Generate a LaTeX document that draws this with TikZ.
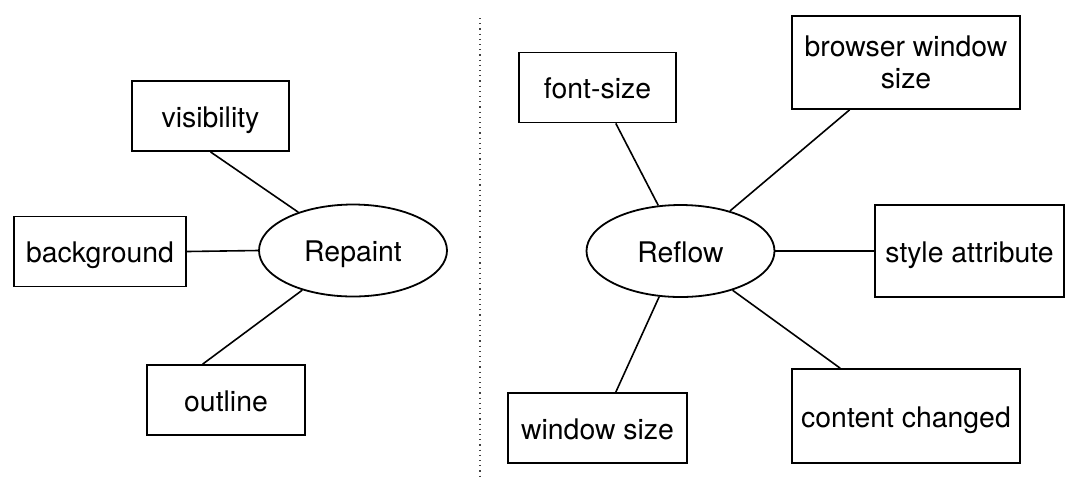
\documentclass[tikz,border=0pt]{standalone}
\usepackage{fontspec}
\setmainfont{TeX Gyre Heros}
\usetikzlibrary{shapes.geometric}

\begin{document}
\begin{tikzpicture}[x=0.5pt,y=-0.5pt]
\tikzstyle{box}=[rectangle, draw, line width=0.9pt, minimum height=35pt, inner sep=2pt, align=center, font=\fontsize{14.2}{16}\selectfont]
\tikzstyle{oneline}=[text height=11.5pt, text depth=0.5pt]
\tikzstyle{oval}=[ellipse, draw, line width=0.9pt, minimum width=94pt, minimum height=46pt, oneline, font=\fontsize{14.2}{16}\selectfont]
\useasboundingbox (0,0) rectangle (1080,500);
% repaint side
\node[box, oneline, minimum width=78.5pt] (vis) at (210.5,116) {visibility};
\node[box, oneline, minimum width=86pt] (bg) at (100,251.5) {background};
\node[box, oneline, minimum width=79pt] (outl) at (226,400) {outline};
\node[oval] (rep) at (353,250.5) {Repaint};

% reflow side
\node[box, oneline, minimum width=78.5pt] (font) at (597.5,87.5) {font-size};
\node[box, minimum width=114pt, minimum height=46.5pt] (bws) at (906,62.5) {browser window\\size};
\node[box, oneline, minimum width=94.5pt, minimum height=46pt] (style) at (969.5,251) {style attribute};
\node[box, oneline, minimum width=114pt, minimum height=47pt] (cont) at (906,416) {content changed};
\node[box, oneline, minimum width=89.5pt] (ws) at (597.5,428) {window size};
\node[oval] (ref) at (680.5,251) {Reflow};

\coordinate (divtop) at (480,18);
\coordinate (divbot) at (480,480);
\draw[dotted, line width=0.6pt, black!75] (divtop)--(divbot);

\draw[line width=0.8pt] (vis.south)--(rep.145);
\draw[line width=0.8pt] (bg.east)--(rep.west);
\draw[line width=0.8pt] (outl.123)--(rep.218);

\draw[line width=0.8pt] (font.297)--(ref.116);
\draw[line width=0.8pt] (bws.220)--(ref.39);
\draw[line width=0.8pt] (ref.east)--(style.west);
\draw[line width=0.8pt] (ref.323)--(cont.144);
\draw[line width=0.8pt] (ref.245)--(ws.63);
\end{tikzpicture}
\end{document}
